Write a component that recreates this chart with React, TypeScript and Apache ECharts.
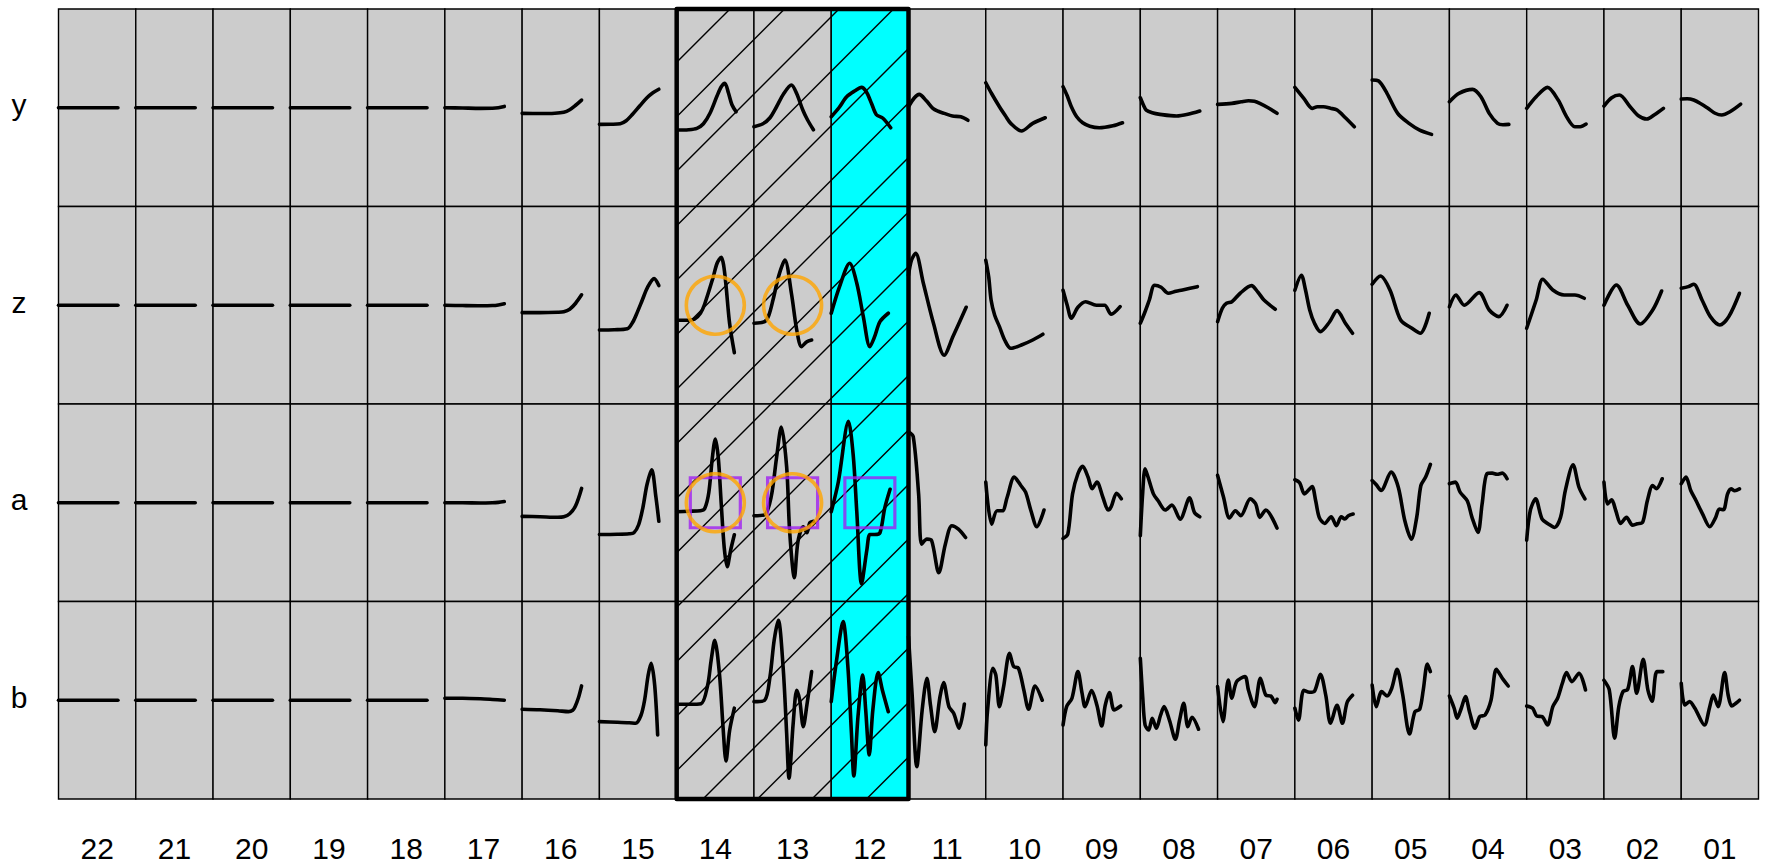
import React, { useEffect, useRef } from "react";
import * as echarts from "echarts";

// Column and row headings
const COLUMN_LABELS = ["22", "21", "20", "19", "18", "17", "16", "15", "14", "13", "12", "11", "10", "09", "08", "07", "06", "05", "04", "03", "02", "01"];
const ROW_LABELS = ["y", "z", "a", "b"];

// Each trace is a list of [t, value] pairs, t running 0..1 along the segment,
// value measured from the cell's centre line.
type Trace = [number, number][];
const FLAT: Trace = [[0, 0], [1, 0]];

const ROW_Y: Trace[] = [
  FLAT, FLAT, FLAT, FLAT, FLAT,
  [[0, 0], [0.3, -0.3], [0.6, -0.6], [0.8, -0.5], [0.9, 0], [1, 1.3]],
  [[0, -5.6], [0.3, -5.8], [0.55, -5.5], [0.7, -4.5], [0.8, -2], [0.9, 2.5], [1, 7.7]],
  [[0, -16.6], [0.2, -16.5], [0.35, -16], [0.45, -13], [0.55, -7], [0.68, 2], [0.8, 10], [0.9, 15], [1, 18.5]],
  [[0, -22.3], [0.2, -22], [0.34, -20.6], [0.45, -16], [0.56, -5.5], [0.68, 12], [0.75, 21], [0.81, 24.4], [0.87, 15], [0.93, 3], [1, -4]],
  [[0, -19], [0.15, -16], [0.27, -10], [0.38, 1], [0.5, 14], [0.63, 22.7], [0.72, 14], [0.82, -2], [0.9, -12], [1, -22]],
  [[0, -9], [0.13, 0], [0.26, 11], [0.4, 17], [0.51, 20.4], [0.59, 16], [0.68, 4], [0.76, -7], [0.87, -10.5], [1, -20]],
  [[0, 1], [0.1, 10], [0.18, 13.4], [0.3, 7], [0.41, -0.6], [0.5, -3.5], [0.6, -5.6], [0.74, -8.3], [0.88, -9], [1, -12.5]],
  [[0, 25], [0.1, 14], [0.23, 1], [0.33, -8], [0.42, -15.6], [0.6, -23.3], [0.79, -15.6], [1, -10]],
  [[0, 21], [0.07, 12], [0.14, 1], [0.23, -9], [0.33, -15], [0.45, -18.5], [0.61, -20], [0.84, -18], [1, -15]],
  [[0, 10], [0.05, 3], [0.1, -2.3], [0.2, -5], [0.33, -6.6], [0.61, -8.3], [0.8, -6.6], [1, -3.3]],
  [[0, 3.4], [0.24, 4.4], [0.4, 6], [0.52, 7], [0.62, 6.5], [0.71, 4.4], [0.85, 0], [1, -5.6]],
  [[0, 20.4], [0.15, 9.4], [0.29, -0.6], [0.38, 1], [0.48, 1], [0.6, -0.5], [0.71, -2.3], [0.85, -10], [1, -19]],
  [[0, 27.7], [0.11, 26.7], [0.25, 14.4], [0.43, -5.6], [0.62, -15.6], [0.8, -22.3], [1, -26.6]],
  [[0, 6], [0.16, 14.4], [0.39, 18.4], [0.53, 11], [0.67, -5.6], [0.81, -15.6], [0.9, -17], [1, -16.6]],
  [[0, -0.6], [0.16, 11], [0.35, 20.4], [0.53, 7.7], [0.67, -8.9], [0.81, -19], [0.9, -19], [1, -16.3]],
  [[0, 1.7], [0.13, 10], [0.26, 12.7], [0.44, 1], [0.58, -8], [0.72, -11.3], [0.85, -7], [1, -0.6]],
  [[0, 8.7], [0.1, 9], [0.21, 7.7], [0.33, 4], [0.45, -0.6], [0.57, -5.5], [0.68, -7.3], [0.82, -4], [1, 3.7]],
];

const ROW_Z: Trace[] = [
  FLAT, FLAT, FLAT, FLAT, FLAT,
  [[0, 0], [0.3, -0.3], [0.6, -0.5], [0.8, -0.3], [0.9, 0.3], [1, 1.5]],
  [[0, -7.4], [0.3, -7.4], [0.6, -7], [0.7, -6.5], [0.8, -4], [0.9, 2], [1, 10.4]],
  [[0, -24.75], [0.25, -24.5], [0.47, -23.5], [0.56, -17], [0.64, -6.6], [0.72, 5], [0.81, 17.9], [0.92, 26.6], [1, 19.7]],
  [[0, -15], [0.15, -15], [0.3, -13.8], [0.4, -8], [0.47, 1], [0.61, 27.3], [0.68, 42], [0.75, 48], [0.79, 40], [0.83, 19.7], [0.89, -18], [0.97, -47.4]],
  [[0, -18], [0.18, -16.4], [0.25, -10], [0.32, 5.2], [0.42, 30], [0.52, 45.2], [0.63, 12], [0.72, -24.75], [0.8, -41.4], [0.89, -36.4], [0.97, -34.75]],
  [[0, -8], [0.14, 18.6], [0.31, 42], [0.43, 22], [0.54, -11.4], [0.65, -41.4], [0.73, -31.4], [0.82, -16.4], [0.96, -8]],
  [[0, 30], [0.05, 45], [0.12, 52], [0.25, 22], [0.42, -18], [0.6, -50], [0.75, -31], [0.97, -2]],
  [[0, 45], [0.05, 28], [0.09, 5], [0.15, -10], [0.23, -21.4], [0.32, -35], [0.42, -43], [0.6, -39.75], [0.79, -34.75], [0.96, -29]],
  [[0, 15], [0.07, 0], [0.14, -13], [0.25, -2], [0.38, 3.5], [0.56, 0], [0.7, 0], [0.81, -9], [0.96, -1.4]],
  [[0, -18], [0.07, -8], [0.15, 5], [0.24, 20], [0.35, 18], [0.47, 12], [0.6, 14], [0.71, 15.25], [0.96, 18.6]],
  [[0, -16.4], [0.08, -3], [0.15, 2], [0.24, 3.5], [0.38, 12], [0.57, 19.6], [0.68, 13], [0.78, 5.25], [0.97, -4]],
  [[0, 15], [0.11, 30], [0.18, 15], [0.25, -4.75], [0.33, -18], [0.43, -26.4], [0.58, -17], [0.71, -5.4], [0.85, -18], [0.97, -28]],
  [[0, 21], [0.14, 29.25], [0.3, 15.25], [0.48, -14.75], [0.67, -23], [0.81, -28], [0.96, -8]],
  [[0, -1.5], [0.11, 10.25], [0.25, 0], [0.5, 12.6], [0.67, -4.75], [0.83, -11.4], [0.97, 0]],
  [[0, -23], [0.16, 5.25], [0.27, 26], [0.44, 15.25], [0.63, 10.25], [0.81, 10.25], [0.97, 7]],
  [[0, 0], [0.21, 20.25], [0.4, 0], [0.61, -18.75], [0.82, -4.75], [0.97, 14.25]],
  [[0, 17], [0.12, 18.6], [0.21, 21], [0.35, 5.25], [0.49, -11.4], [0.65, -19.75], [0.8, -11.4], [0.98, 12]],
];

const ROW_A: Trace[] = [
  FLAT, FLAT, FLAT, FLAT, FLAT,
  [[0, 0], [0.3, 0], [0.6, -0.3], [0.8, 0], [0.9, 0.4], [1, 1.2]],
  [[0, -13.6], [0.3, -14], [0.6, -14.5], [0.7, -14], [0.8, -11], [0.9, -3], [1, 14.3]],
  [[0, -31.75], [0.3, -31.5], [0.5, -31], [0.58, -30], [0.66, -22], [0.73, -5.3], [0.8, 18], [0.88, 33], [0.95, 6], [1, -18.5]],
  [[0, -9], [0.2, -8.5], [0.4, -8], [0.47, -6], [0.54, 10], [0.6, 45], [0.65, 63.75], [0.7, 45], [0.75, -1.5], [0.8, -45], [0.85, -63.9], [0.91, -46.9], [0.97, -32]],
  [[0, -13], [0.18, -12], [0.29, 6], [0.38, 45], [0.46, 75.75], [0.55, 36], [0.6, -28], [0.68, -75], [0.74, -39], [0.83, -24], [0.89, -30], [0.94, -20], [1, -18.5]],
  [[0, -9], [0.12, 21], [0.29, 81.5], [0.37, 47.5], [0.43, -9], [0.51, -81], [0.6, -47], [0.65, -31.75], [0.73, -31.75], [0.82, -30], [0.9, -5.3], [0.99, 13.5]],
  [[0, 71], [0.08, 66], [0.17, 8.9], [0.22, -41.4], [0.31, -36.4], [0.39, -38], [0.51, -70], [0.62, -41.4], [0.73, -23], [0.84, -26.4], [0.96, -34.75]],
  [[0, 20.6], [0.1, -21.4], [0.19, -8], [0.28, -8], [0.36, 5.5], [0.48, 25.7], [0.59, 17.25], [0.67, 10.6], [0.76, -8], [0.86, -24], [0.98, -7.3]],
  [[0, -35.75], [0.08, -31.4], [0.16, 8.9], [0.25, 29], [0.33, 36.4], [0.42, 25.7], [0.49, 14], [0.57, 20.6], [0.67, 5.5], [0.76, -7.3], [0.81, -4], [0.9, 9.5], [0.98, 3.9]],
  [[0, -33], [0.04, 10], [0.08, 34], [0.13, 25.7], [0.22, 8.9], [0.3, 2], [0.42, -7.3], [0.53, -2.3], [0.67, -16.4], [0.83, 4.9], [0.91, -9.6], [1, -14]],
  [[0, 27.4], [0.1, 5.5], [0.2, -15.3], [0.3, -8], [0.39, -13], [0.55, 3.9], [0.64, -1], [0.71, -14.6], [0.81, -7.3], [1, -25.4]],
  [[0, 23], [0.08, 20], [0.16, 8.9], [0.22, 12], [0.29, 16.25], [0.35, 2], [0.41, -14.6], [0.5, -20.7], [0.61, -14], [0.7, -23], [0.78, -14], [0.84, -16.25], [0.9, -13], [0.98, -11.3]],
  [[0, 22.2], [0.07, 18], [0.15, 12.2], [0.32, 30.6], [0.44, 15.5], [0.55, -18], [0.66, -36.4], [0.75, -14.6], [0.82, 17.25], [0.9, 25.7], [0.98, 38.4]],
  [[0, 19], [0.1, 20.6], [0.18, 10.6], [0.3, 2], [0.38, -14.6], [0.48, -29.75], [0.55, -1.3], [0.63, 29], [0.72, 29.6], [0.8, 28.5], [0.89, 29.6], [0.97, 24]],
  [[0, -37.4], [0.06, -8], [0.15, 3.9], [0.26, -16.4], [0.37, -21.4], [0.47, -24.75], [0.57, -14.6], [0.65, 12.2], [0.78, 38], [0.88, 15.5], [0.98, 3.9]],
  [[0, 20.6], [0.06, -1.3], [0.13, 2.9], [0.2, -8], [0.28, -20.7], [0.38, -14.6], [0.48, -22.4], [0.56, -21], [0.65, -19.6], [0.73, 2], [0.82, 17.25], [0.88, 14], [0.98, 24]],
  [[0, 19], [0.08, 25.7], [0.16, 12.2], [0.25, 2], [0.36, -11.3], [0.48, -24], [0.58, -14.6], [0.64, -6.3], [0.71, -7], [0.78, 8.9], [0.84, 13.9], [0.9, 12], [0.98, 13.9]],
];

const ROW_B: Trace[] = [
  FLAT, FLAT, FLAT, FLAT, FLAT,
  [[0, 2], [0.3, 2], [0.6, 1.5], [0.8, 0.8], [1, 0]],
  [[0, -9], [0.3, -9.5], [0.6, -10.5], [0.78, -11.4], [0.85, -10], [0.89, -6.4], [0.95, 3], [1, 14.3]],
  [[0, -21.4], [0.3, -22], [0.5, -22.5], [0.61, -23], [0.7, -15], [0.76, 0], [0.82, 25], [0.87, 37], [0.93, 15], [0.98, -34.75]],
  [[0, -4], [0.2, -4], [0.41, -3.4], [0.52, 14.75], [0.58, 40], [0.64, 60], [0.72, 26], [0.78, -26.8], [0.83, -60.8], [0.89, -30.5], [0.97, -7.9]],
  [[0, -1.4], [0.18, 0], [0.27, 23.6], [0.34, 60], [0.41, 80], [0.49, 33.6], [0.55, -33], [0.59, -78], [0.66, -23], [0.72, 10], [0.77, 0], [0.83, -26.4], [0.89, -5], [0.97, 28.6]],
  [[0, -1.4], [0.09, 40], [0.2, 78.6], [0.28, 33.6], [0.34, -33], [0.38, -75.75], [0.45, -16.4], [0.53, 25.25], [0.58, -9.75], [0.64, -54.75], [0.7, -9.75], [0.79, 27.6], [0.86, 10.25], [0.96, -11.4]],
  [[0, 63.6], [0.06, 7], [0.14, -66.4], [0.23, -9.75], [0.31, 22], [0.37, -5], [0.44, -31.4], [0.53, 3.6], [0.59, 17.6], [0.68, -6.4], [0.76, -13], [0.85, -28], [0.94, -3.75]],
  [[0, -44.75], [0.03, -10], [0.12, 31.9], [0.17, 25], [0.23, -6.4], [0.3, 13.6], [0.4, 47], [0.47, 33.6], [0.55, 32], [0.64, 10.25], [0.72, -9], [0.83, 14.25], [0.95, 0]],
  [[0, -24.75], [0.06, -6.4], [0.15, 2], [0.25, 28.6], [0.32, 7], [0.37, -6.4], [0.48, 9.6], [0.57, -5], [0.65, -25.75], [0.71, -5], [0.78, 7.6], [0.86, -9.75], [0.97, -5.75]],
  [[0, 42], [0.04, 3.6], [0.08, -24.75], [0.14, -29.75], [0.2, -18], [0.27, -28], [0.34, -15], [0.4, -6.4], [0.49, -20], [0.59, -39], [0.66, -20], [0.73, -3], [0.8, -26.4], [0.87, -17], [0.98, -29]],
  [[0, 13.6], [0.09, -21.4], [0.18, 20.25], [0.24, 2], [0.32, 18.6], [0.46, 23.6], [0.52, 10], [0.62, -6.4], [0.72, 22], [0.81, 5.25], [0.9, 4], [0.97, -2.4], [1, 1]],
  [[0, -8], [0.06, -20], [0.15, 10], [0.25, 8], [0.33, 9], [0.43, 26], [0.52, 5], [0.6, -23], [0.71, -5], [0.8, -23], [0.88, -2], [0.97, 5]],
  [[0, 15.25], [0.07, -6.4], [0.16, 8.6], [0.25, 4.25], [0.33, 12], [0.42, 31], [0.51, 7], [0.63, -33.75], [0.72, -11.4], [0.8, -9], [0.86, 10.25], [0.93, 36.25], [0.98, 28.6]],
  [[0, 4.25], [0.08, -8], [0.13, -18], [0.2, -8], [0.27, 3.6], [0.34, -12], [0.43, -28], [0.51, -16.4], [0.6, -14.75], [0.7, 0], [0.79, 31], [0.89, 22], [0.99, 14.25]],
  [[0, -5.75], [0.1, -8], [0.17, -15.75], [0.26, -16.4], [0.35, -24.75], [0.44, -6.4], [0.52, 2], [0.6, 17], [0.67, 27.6], [0.76, 18.6], [0.88, 27], [0.99, 10.25]],
  [[0, 20], [0.09, 10.25], [0.18, -38], [0.25, -6.4], [0.32, 8.6], [0.4, 11], [0.48, 33.6], [0.55, 7], [0.66, 41], [0.74, 10], [0.81, -1], [0.89, 28.6], [0.99, 28.6]],
  [[0, 17], [0.06, -4.75], [0.14, -1.4], [0.23, -8], [0.39, -24.75], [0.48, -6.4], [0.54, 5.25], [0.62, -6.4], [0.73, 27.6], [0.79, 5], [0.85, -5.75], [0.92, -3], [0.98, 0]],
];

// Highlighted columns and marked cells
const HATCHED_COLUMNS = ["14", "13", "12"];
const FILLED_COLUMNS = ["12"];
const CIRCLED_CELLS: [string, string][] = [["z", "14"], ["z", "13"], ["a", "14"], ["a", "13"]];
const BOXED_CELLS: [string, string][] = [["a", "14"], ["a", "13"], ["a", "12"]];

// Layout (pixels)
const WIDTH = 1765;
const HEIGHT = 867;
const PLOT_LEFT = 58.5;
const PLOT_TOP = 9;
const PLOT_W = 1700;
const PLOT_H = 790;
const X_MAX = 1.3; // the trace fills the left ~77% of each cell
const Y_HALF = 98.75;
const HATCH_STEP = 54.5;
const HATCH_PHASE = 53.3;
const FONT = "'Liberation Sans', Arial, Helvetica, sans-serif";
const FONT_SIZE = 30;

function buildOption() {
  const rows = [ROW_Y, ROW_Z, ROW_A, ROW_B];
  const nCols = COLUMN_LABELS.length;
  const nRows = ROW_LABELS.length;
  const cw = PLOT_W / nCols;
  const ch = PLOT_H / nRows;

  const grid: any[] = [];
  const xAxis: any[] = [];
  const yAxis: any[] = [];
  const series: any[] = [];

  rows.forEach((traces, r) => {
    traces.forEach((trace, c) => {
      const idx = grid.length;
      const filled = FILLED_COLUMNS.includes(COLUMN_LABELS[c]);
      grid.push({
        left: PLOT_LEFT + c * cw,
        top: PLOT_TOP + r * ch,
        width: cw,
        height: ch,
        show: true,
        backgroundColor: filled ? "#00ffff" : "#cccccc",
        borderColor: "#000000",
        borderWidth: 1.4,
        containLabel: false,
      });
      xAxis.push({ type: "value", gridIndex: idx, min: 0, max: X_MAX, show: false });
      yAxis.push({ type: "value", gridIndex: idx, min: -Y_HALF, max: Y_HALF, show: false });
      series.push({
        type: "line",
        xAxisIndex: idx,
        yAxisIndex: idx,
        data: trace,
        showSymbol: false,
        symbol: "none",
        smooth: 0.3,
        silent: true,
        z: 3,
        lineStyle: { color: "#000000", width: 3.6, cap: "round", join: "round" },
      });
    });
  });

  const cellIndex = (row: string, col: string) =>
    ROW_LABELS.indexOf(row) * nCols + COLUMN_LABELS.indexOf(col);

  CIRCLED_CELLS.forEach(([row, col]) => {
    const idx = cellIndex(row, col);
    series.push({
      type: "scatter",
      xAxisIndex: idx,
      yAxisIndex: idx,
      data: [[X_MAX / 2, 0]],
      symbol: "circle",
      symbolSize: 58,
      silent: true,
      z: 8,
      itemStyle: { color: "rgba(0,0,0,0)", borderColor: "#ffa500", borderWidth: 3.6 },
    });
  });

  BOXED_CELLS.forEach(([row, col]) => {
    const idx = cellIndex(row, col);
    series.push({
      type: "scatter",
      xAxisIndex: idx,
      yAxisIndex: idx,
      data: [[X_MAX / 2, 0]],
      symbol: "rect",
      symbolSize: 50,
      silent: true,
      z: 7,
      itemStyle: { color: "rgba(0,0,0,0)", borderColor: "#a020f0", borderWidth: 3.2 },
    });
  });

  // Hatched band with heavy outline
  const hatchIdx = HATCHED_COLUMNS.map((l) => COLUMN_LABELS.indexOf(l));
  const bx0 = PLOT_LEFT + Math.min(...hatchIdx) * cw;
  const bx1 = PLOT_LEFT + (Math.max(...hatchIdx) + 1) * cw;
  const by0 = PLOT_TOP;
  const by1 = PLOT_TOP + PLOT_H;

  const graphics: any[] = [];
  for (let c = bx0 + by0 + HATCH_PHASE; c < bx1 + by1; c += HATCH_STEP) {
    const xa = Math.max(bx0, c - by1);
    const xb = Math.min(bx1, c - by0);
    if (xb <= xa) continue;
    graphics.push({
      type: "line",
      silent: true,
      z: 5,
      shape: { x1: xa, y1: c - xa, x2: xb, y2: c - xb },
      style: { stroke: "#000000", lineWidth: 1.4 },
    });
  }
  graphics.push({
    type: "rect",
    silent: true,
    z: 20,
    shape: { x: bx0, y: by0, width: bx1 - bx0, height: by1 - by0 },
    style: { fill: "none", stroke: "#000000", lineWidth: 4.5, lineJoin: "round" },
  });

  // Row headings
  ROW_LABELS.forEach((label, r) => {
    graphics.push({
      type: "text",
      silent: true,
      x: 19,
      y: PLOT_TOP + (r + 0.5) * ch - 3,
      style: {
        text: label,
        fill: "#000000",
        fontSize: FONT_SIZE,
        fontFamily: FONT,
        align: "center",
        verticalAlign: "middle",
        textAlign: "center",
        textVerticalAlign: "middle",
      },
    });
  });

  // Column headings
  COLUMN_LABELS.forEach((label, c) => {
    graphics.push({
      type: "text",
      silent: true,
      x: PLOT_LEFT + (c + 0.5) * cw,
      y: 848,
      style: {
        text: label,
        fill: "#000000",
        fontSize: FONT_SIZE,
        fontFamily: FONT,
        align: "center",
        verticalAlign: "middle",
        textAlign: "center",
        textVerticalAlign: "middle",
      },
    });
  });

  return {
    animation: false,
    backgroundColor: "#ffffff",
    grid,
    xAxis,
    yAxis,
    series,
    graphic: { elements: graphics },
  };
}

export default function App() {
  const ref = useRef<HTMLDivElement>(null);

  useEffect(() => {
    if (!ref.current) return;
    const chart = echarts.init(ref.current, undefined, { renderer: "svg" });
    chart.setOption(buildOption() as any);
    return () => chart.dispose();
  }, []);

  return (
    <div
      ref={ref}
      style={{ position: "absolute", left: 0, top: 0, width: WIDTH, height: HEIGHT }}
    />
  );
}
